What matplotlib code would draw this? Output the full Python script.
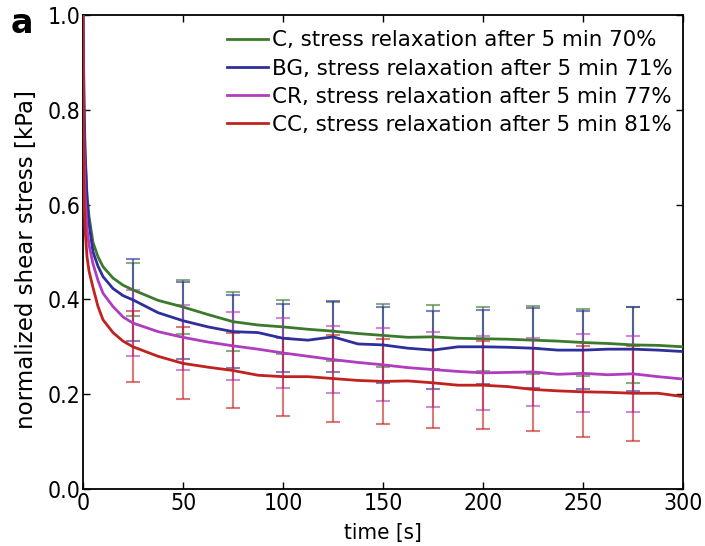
import matplotlib
matplotlib.use("Agg")
import matplotlib.pyplot as plt
import matplotlib.font_manager as fm
import numpy as np

# ---- data ----
time_s = [0, 0.5, 1, 2, 3, 5, 7.5, 10, 15, 20, 25, 37.5, 50, 62.5, 75, 87.5, 100,
          112.5, 125, 137.5, 150, 162.5, 175, 187.5, 200, 212.5, 225, 237.5, 250,
          262.5, 275, 287.5, 300]

stress_C = [1.0, 0.80, 0.70, 0.62, 0.575, 0.52, 0.49, 0.469, 0.445, 0.43, 0.42,
            0.398, 0.384, 0.368, 0.353, 0.346, 0.342, 0.337, 0.333, 0.328, 0.324,
            0.320, 0.321, 0.318, 0.317, 0.316, 0.314, 0.312, 0.309, 0.307, 0.304,
            0.303, 0.300]
stress_BG = [1.0, 0.82, 0.72, 0.61, 0.56, 0.50, 0.47, 0.448, 0.423, 0.408, 0.399,
             0.372, 0.355, 0.342, 0.332, 0.330, 0.318, 0.314, 0.321, 0.306, 0.304,
             0.297, 0.293, 0.300, 0.300, 0.299, 0.297, 0.293, 0.293, 0.295, 0.295,
             0.293, 0.290]
stress_CR = [1.0, 0.72, 0.62, 0.55, 0.515, 0.475, 0.44, 0.413, 0.385, 0.363, 0.35,
             0.332, 0.320, 0.310, 0.302, 0.295, 0.287, 0.280, 0.273, 0.267, 0.262,
             0.256, 0.252, 0.248, 0.245, 0.246, 0.247, 0.242, 0.244, 0.241, 0.243,
             0.237, 0.232]
stress_CC = [1.0, 0.62, 0.55, 0.49, 0.46, 0.425, 0.385, 0.357, 0.33, 0.312, 0.30,
             0.280, 0.265, 0.257, 0.250, 0.240, 0.237, 0.237, 0.233, 0.229, 0.227,
             0.228, 0.224, 0.219, 0.219, 0.216, 0.210, 0.207, 0.205, 0.204, 0.202,
             0.202, 0.195]

err_times = [25, 50, 75, 100, 125, 150, 175, 200, 225, 250, 275]
err_C = [0.056, 0.057, 0.062, 0.057, 0.062, 0.067, 0.067, 0.067, 0.072, 0.071, 0.081]
err_BG = [0.087, 0.081, 0.077, 0.072, 0.075, 0.080, 0.082, 0.078, 0.084, 0.083, 0.089]
err_CR = [0.070, 0.069, 0.072, 0.074, 0.070, 0.077, 0.079, 0.078, 0.072, 0.082, 0.080]
err_CC = [0.075, 0.076, 0.080, 0.082, 0.092, 0.089, 0.096, 0.093, 0.088, 0.096, 0.100]

labels = ["C, stress relaxation after 5 min 70%",
          "BG, stress relaxation after 5 min 71%",
          "CR, stress relaxation after 5 min 77%",
          "CC, stress relaxation after 5 min 81%"]
colors = ["#3b7a2c", "#2e2e9c", "#b03cbf", "#c0221f"]

# ---- font ----
cond = "normal"
for f in fm.fontManager.ttflist:
    if f.name == "DejaVu Sans" and "Condensed" in f.fname:
        cond = "condensed"
        break
plt.rcParams["font.family"] = ["DejaVu Sans"]
plt.rcParams["font.stretch"] = cond

fig = plt.figure(figsize=(7.05, 5.46), dpi=100)
ax = fig.add_axes([83 / 705, 1 - 489 / 546, 600 / 705, 474 / 546])

series = [stress_C, stress_BG, stress_CR, stress_CC]
errs = [err_C, err_BG, err_CR, err_CC]
t = np.array(time_s)
for ys, es, lab, c in zip(series, errs, labels, colors):
    ys = np.array(ys)
    ax.plot(t, ys, color=c, lw=2, label=lab, zorder=3)
    idx = [time_s.index(tt) for tt in err_times]
    ax.errorbar(err_times, ys[idx], yerr=es, fmt="none", ecolor=c, alpha=0.6,
                elinewidth=1.5, capsize=5, capthick=1.5, zorder=2)

ax.set_xlim(0, 300)
ax.set_ylim(0, 1.0)
ax.set_xticks([0, 50, 100, 150, 200, 250, 300])
ax.set_yticks([0.0, 0.2, 0.4, 0.6, 0.8, 1.0])
ax.set_yticklabels(["0.0", "0.2", "0.4", "0.6", "0.8", "1.0"])
ax.tick_params(direction="in", top=True, right=True, length=5, width=1,
               labelsize=16.5, pad=2)
for sp in ax.spines.values():
    sp.set_linewidth(1.3)
ax.set_xlabel("time [s]", fontsize=16, labelpad=6)
ax.set_ylabel("normalized shear stress [kPa]", fontsize=16.5,
              fontstretch="normal")
ax.yaxis.set_label_coords(-0.075, 0.484)

leg = ax.legend(loc="upper right", frameon=False, handlelength=1.9,
                handletextpad=0.2, labelspacing=0.38, borderaxespad=0.1,
                bbox_to_anchor=(1.0, 0.99),
                prop=fm.FontProperties(family="DejaVu Sans", size=15.4,
                                       stretch="normal"))

fig.text(11 / 705, 1 - 33 / 546, "a", fontsize=24, fontweight="bold",
         fontstretch="normal")

fig.savefig("out.png", dpi=100)
